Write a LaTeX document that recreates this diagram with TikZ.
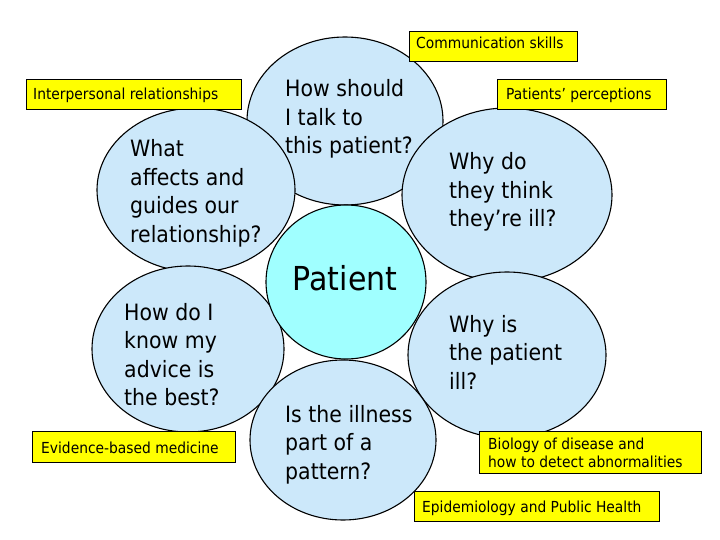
\documentclass[tikz,border=0pt]{standalone}
\usepackage{fontspec}
\setmainfont{DejaVu Sans}[FakeStretch=0.91]
\usetikzlibrary{shapes.geometric}
\definecolor{bubbleblue}{HTML}{CCE8FA}
\definecolor{coreblue}{HTML}{A0FFFF}
\definecolor{tagyellow}{HTML}{FFFF00}
\newcommand{\linesof}[1]{\begin{tabular}[t]{@{}l@{}}#1\end{tabular}}
\begin{document}
\begin{tikzpicture}[x=1pt,y=-1pt,
  bubble/.style={ellipse, draw=black, line width=1.1pt, fill=bubbleblue, inner sep=0pt},
  qtext/.style={anchor=base west, font=\fontsize{22.5}{28.5}\selectfont, inner sep=0pt},
  tagbox/.style={draw=black, line width=1.3pt, fill=tagyellow, inner sep=0pt, anchor=north west},
  tagtext/.style={anchor=base west, font=\fontsize{15.2}{18}\selectfont, inner sep=0pt}]
\useasboundingbox (0,0) rectangle (720,540);
\fill[white] (0,0) rectangle (720,540);
% bubbles
\node[bubble, minimum width=196pt, minimum height=168pt] (top) at (345,121) {};
\node[bubble, minimum width=198pt, minimum height=164pt] (ul) at (196,190) {};
\node[bubble, minimum width=210pt, minimum height=174pt] (ur) at (507,195) {};
\node[bubble, minimum width=192pt, minimum height=166pt] (ll) at (188,349) {};
\node[bubble, minimum width=198pt, minimum height=166pt] (lr) at (507,355) {};
\node[bubble, minimum width=186pt, minimum height=160pt] (bot) at (343,440) {};
\node[bubble, fill=coreblue, minimum width=160pt, minimum height=154pt] (core) at (346,282) {};
% texts
\node[qtext] (ttop) at (285,97) {\linesof{How should\\I talk to\\this patient?}};
\node[qtext] (tul) at (130,157) {\linesof{What\\affects and\\guides our\\relationship?}};
\node[qtext] (tur) at (449,170) {\linesof{Why do\\they think\\they’re ill?}};
\node[qtext] (tll) at (124,320) {\linesof{How do I\\know my\\advice is\\the best?}};
\node[qtext] (tlr) at (449,332) {\linesof{Why is\\the patient\\ill?}};
\node[qtext] (tbot) at (285,422) {\linesof{Is the illness\\part of a\\pattern?}};
\node[anchor=base, font=\fontsize{33}{36}\selectfont, inner sep=0pt] (tcore) at (345,290) {Patient};
% tags
\node[tagbox, minimum width=168pt, minimum height=30pt] (comm) at (409,31) {};
\node[tagtext] (tcomm) at (416,49) {Communication skills};
\node[tagbox, minimum width=215pt, minimum height=30pt] (inter) at (26,79) {};
\node[tagtext] (tinter) at (33,100) {Interpersonal relationships};
\node[tagbox, minimum width=169pt, minimum height=30pt] (perc) at (497,79) {};
\node[tagtext] (tperc) at (506,100) {Patients’ perceptions};
\node[tagbox, minimum width=203pt, minimum height=31pt] (ebm) at (32,431) {};
\node[tagtext] (tebm) at (41,453) {Evidence-based medicine};
\node[tagbox, minimum width=222pt, minimum height=42pt] (bio) at (479,431) {};
\node[tagtext] (tbio) at (488,449) {\linesof{Biology of disease and\\how to detect abnormalities}};
\node[tagbox, minimum width=245pt, minimum height=30pt] (epi) at (414,491) {};
\node[tagtext] (tepi) at (422,512) {Epidemiology and Public Health};
\end{tikzpicture}
\end{document}
